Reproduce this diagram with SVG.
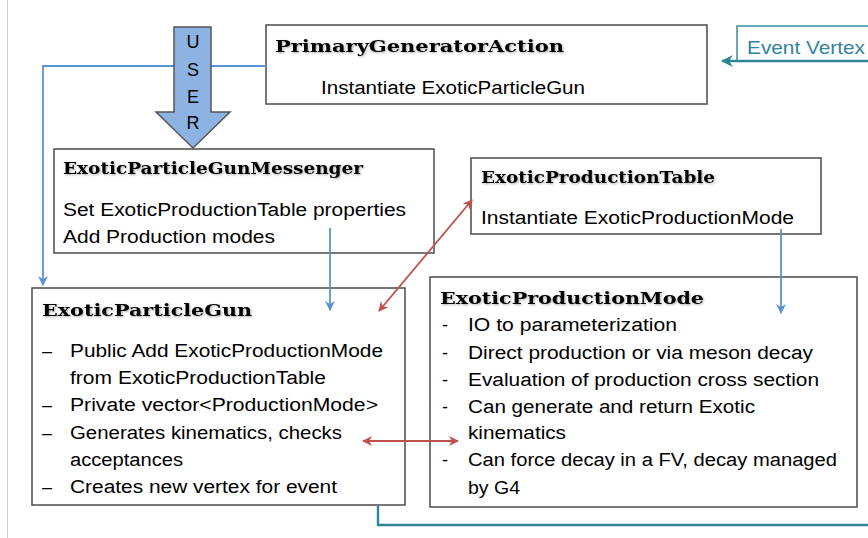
<svg xmlns="http://www.w3.org/2000/svg" width="868" height="538" viewBox="0 0 868 538">
<style>
.box{fill:#fff;stroke:#555;stroke-width:1.6}
.title{font-family:"DejaVu Serif",serif;font-weight:bold;font-size:17.5px;fill:#000;filter:url(#sh)}
.t{font-family:"Liberation Sans",Arial,sans-serif;font-size:18px;fill:#000}
.blue{fill:none;stroke:#5b93d3;stroke-width:1.8}
.red{fill:none;stroke:#c0504d;stroke-width:1.8}
.teal{fill:none;stroke:#2c8595;stroke-width:2.4}
</style>
<defs>
<filter id="sh" x="-5%" y="-30%" width="110%" height="160%"><feDropShadow dx="1" dy="1" stdDeviation="0.8" flood-color="#000" flood-opacity="0.35"/></filter>
<marker id="ab" viewBox="0 0 10 10" refX="9" refY="5" markerWidth="10" markerHeight="10" markerUnits="userSpaceOnUse" orient="auto-start-reverse"><path d="M0,0 L10,5 L0,10 L3,5 Z" fill="#5b93d3"/></marker>
<marker id="ar" viewBox="0 0 10 10" refX="9" refY="5" markerWidth="10" markerHeight="10" markerUnits="userSpaceOnUse" orient="auto-start-reverse"><path d="M0,0 L10,5 L0,10 L3,5 Z" fill="#c0504d"/></marker>
<marker id="at" viewBox="0 0 10 10" refX="9" refY="5" markerWidth="12" markerHeight="12" markerUnits="userSpaceOnUse" orient="auto"><path d="M0,0 L10,5 L0,10 L3,5 Z" fill="#2c8595"/></marker>
</defs>
<rect width="868" height="538" fill="#fff"/>
<line x1="7.5" y1="0" x2="7.5" y2="538" stroke="#d0d0d0" stroke-width="1"/>

<g id="primary-generator-action">
<rect class="box" x="266" y="25" width="441" height="79"/>
<text class="title" x="275" y="52" textLength="289" lengthAdjust="spacingAndGlyphs">PrimaryGeneratorAction</text>
<text class="t" x="321" y="94" textLength="264" lengthAdjust="spacingAndGlyphs">Instantiate ExoticParticleGun</text>
</g>

<g id="event-vertex">
<rect x="737" y="26" width="140" height="35" fill="#fff" stroke="#2c8595" stroke-width="1.4"/>
<text x="747" y="54" font-family="Liberation Sans, Arial, sans-serif" font-size="19" fill="#31849b" textLength="118" lengthAdjust="spacingAndGlyphs">Event Vertex</text>
</g>

<g id="messenger">
<rect class="box" x="54" y="149" width="380" height="104"/>
<text class="title" x="63" y="174" textLength="300" lengthAdjust="spacingAndGlyphs">ExoticParticleGunMessenger</text>
<text class="t" x="63" y="216" textLength="343" lengthAdjust="spacingAndGlyphs">Set ExoticProductionTable properties</text>
<text class="t" x="63" y="243" textLength="212" lengthAdjust="spacingAndGlyphs">Add Production modes</text>
</g>

<g id="production-table">
<rect class="box" x="471" y="158" width="350" height="76"/>
<text class="title" x="481" y="183" textLength="234" lengthAdjust="spacingAndGlyphs">ExoticProductionTable</text>
<text class="t" x="481" y="224" textLength="313" lengthAdjust="spacingAndGlyphs">Instantiate ExoticProductionMode</text>
</g>

<g id="particle-gun">
<rect class="box" x="32" y="288" width="373" height="217"/>
<text class="title" x="42" y="316" textLength="210" lengthAdjust="spacingAndGlyphs">ExoticParticleGun</text>
<g class="t">
<text x="42" y="357">–</text><text x="70" y="357" textLength="313" lengthAdjust="spacingAndGlyphs">Public Add ExoticProductionMode</text>
<text x="70" y="384" textLength="256" lengthAdjust="spacingAndGlyphs">from ExoticProductionTable</text>
<text x="42" y="411">–</text><text x="70" y="411" textLength="308" lengthAdjust="spacingAndGlyphs">Private vector&lt;ProductionMode&gt;</text>
<text x="42" y="439">–</text><text x="70" y="439" textLength="272" lengthAdjust="spacingAndGlyphs">Generates kinematics, checks</text>
<text x="70" y="466" textLength="113" lengthAdjust="spacingAndGlyphs">acceptances</text>
<text x="42" y="493">–</text><text x="70" y="493" textLength="267" lengthAdjust="spacingAndGlyphs">Creates new vertex for event</text>
</g>
</g>

<g id="production-mode">
<rect class="box" x="430" y="277" width="427" height="230"/>
<text class="title" x="440" y="304" textLength="264" lengthAdjust="spacingAndGlyphs">ExoticProductionMode</text>
<g class="t">
<text x="442" y="331">-</text><text x="468" y="331" textLength="209" lengthAdjust="spacingAndGlyphs">IO to parameterization</text>
<text x="442" y="359">-</text><text x="468" y="359" textLength="345" lengthAdjust="spacingAndGlyphs">Direct production or via meson decay</text>
<text x="442" y="386">-</text><text x="468" y="386" textLength="351" lengthAdjust="spacingAndGlyphs">Evaluation of production cross section</text>
<text x="442" y="413">-</text><text x="468" y="413" textLength="287" lengthAdjust="spacingAndGlyphs">Can generate and return Exotic</text>
<text x="468" y="439" textLength="98" lengthAdjust="spacingAndGlyphs">kinematics</text>
<text x="442" y="466">-</text><text x="468" y="466" textLength="369" lengthAdjust="spacingAndGlyphs">Can force decay in a FV, decay managed</text>
<text x="468" y="494" textLength="52" lengthAdjust="spacingAndGlyphs">by G4</text>
</g>
</g>

<g id="connectors">
<path class="blue" d="M266,66 H43 V285" marker-end="url(#ab)"/>
<path class="blue" d="M330,228 V310" marker-end="url(#ab)"/>
<path class="blue" d="M781,229 V313" marker-end="url(#ab)"/>
<path class="red" d="M379,311 L472,200" marker-start="url(#ar)" marker-end="url(#ar)"/>
<path class="red" d="M363,441 L458,441" marker-start="url(#ar)" marker-end="url(#ar)"/>
<path class="teal" d="M378,506 V525 H868"/>
<path class="teal" d="M868,61 H722" marker-end="url(#at)"/>
</g>

<g id="user-arrow">
<path d="M174,27 H211 V112 H230 L193,148 L156,112 H174 Z" fill="#8db3e2" stroke="#555" stroke-width="1.5"/>
<text class="t" x="193" y="48" text-anchor="middle">U</text>
<text class="t" x="193" y="76" text-anchor="middle">S</text>
<text class="t" x="193" y="103" text-anchor="middle">E</text>
<text class="t" x="193" y="129" text-anchor="middle">R</text>
</g>
</svg>
